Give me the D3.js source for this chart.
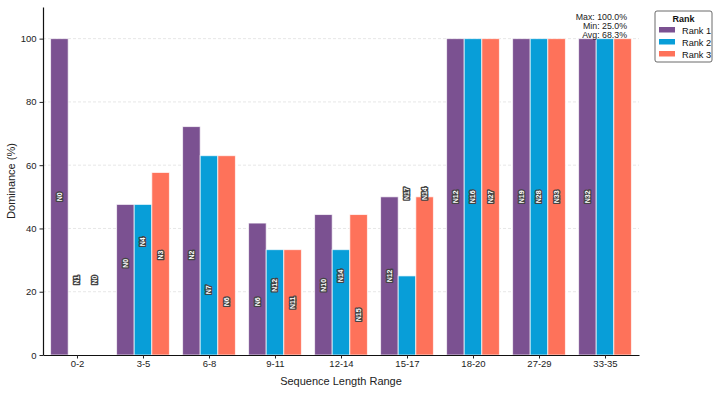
<!DOCTYPE html>
<html>
<head>
<meta charset="utf-8">
<script src="https://cdn.jsdelivr.net/npm/d3@7"></script>
<style>
  body { margin: 0; background: #fff; }
  svg { font-family: "Liberation Sans", Arial, sans-serif; }
</style>
</head>
<body>
<svg width="718" height="393"></svg>
<script>
var categories = ["0-2", "3-5", "6-8", "9-11", "12-14", "15-17", "18-20", "27-29", "33-35"];
var ranks = ["Rank 1", "Rank 2", "Rank 3"];
var rank1 = [100, 47.6, 72.2, 41.7, 44.4, 50, 100, 100, 100];
var rank2 = [0, 47.6, 63.0, 33.3, 33.3, 25, 100, 100, 100];
var rank3 = [0, 57.7, 63.0, 33.3, 44.4, 50, 100, 100, 100];
// node labels per bar and the height (in %) they sit at
var labels1 = ["N0", "N0", "N2", "N6", "N10", "N12", "N12", "N19", "N32"];
var labels2 = ["N1", "N4", "N7", "N12", "N14", "N17", "N16", "N28", null];
var labels3 = ["N0", "N3", "N6", "N11", "N15", "N14", "N27", "N33", null];
var labelAt1 = [50, 29, 31.6, 16.8, 22, 25, 50, 50, 50];
var labelAt2 = [23.7, 35.8, 20.6, 22, 25, 51, 50, 50, 50];
var labelAt3 = [23.7, 31.6, 16.8, 16.5, 12.7, 51, 50, 50, 50];
var yTicks = [0, 20, 40, 60, 80, 100];
var colors = ["#7b5191", "#089ed8", "#fe725a"];

var svg = d3.select("svg");
var margins = { left: 43, right: 79, top: 7, bottom: 38 };
var width = +svg.attr("width"), height = +svg.attr("height");

var xScale = d3.scaleLinear().domain([-0.515, 8.515]).range([margins.left, width - margins.right]);
var yScale = d3.scaleLinear().domain([0, 110]).range([height - margins.bottom, margins.top]);

var series = [rank1, rank2, rank3];
var labelSets = [labels1, labels2, labels3];
var labelAts = [labelAt1, labelAt2, labelAt3];
var barW = 0.8 / 3;

// grid
svg.append("g")
  .selectAll("line").data(yTicks.slice(1)).enter().append("line")
  .attr("x1", margins.left).attr("x2", width - margins.right)
  .attr("y1", function (d) { return yScale(d); })
  .attr("y2", function (d) { return yScale(d); })
  .attr("stroke", "#ddd").attr("stroke-width", 0.7).attr("stroke-dasharray", "3,2");

// bars
series.forEach(function (vals, s) {
  svg.append("g").selectAll("rect").data(vals).enter().append("rect")
    .attr("x", function (d, i) { return xScale(i + (s - 1) * barW - barW / 2); })
    .attr("width", xScale(barW) - xScale(0))
    .attr("y", function (d) { return yScale(d); })
    .attr("height", function (d) { return yScale(0) - yScale(d); })
    .attr("fill", colors[s])
    .attr("stroke", "#fff").attr("stroke-opacity", 0.7).attr("stroke-width", 1);
});

// node labels
series.forEach(function (vals, s) {
  labelSets[s].forEach(function (lab, i) {
    if (!lab) return;
    var cx = xScale(i + (s - 1) * barW), cy = yScale(labelAts[s][i]);
    svg.append("text")
      .attr("transform", "translate(" + cx + "," + cy + ") rotate(-90)")
      .attr("text-anchor", "middle").attr("dy", "0.35em")
      .attr("font-size", 7).attr("font-weight", "bold")
      .attr("fill", "#fff").attr("stroke", "#444").attr("stroke-width", 2.6)
      .attr("paint-order", "stroke").attr("stroke-linejoin", "round")
      .text(lab);
  });
});

// axes
var xAxis = svg.append("g")
  .attr("transform", "translate(0," + yScale(0) + ")")
  .call(d3.axisBottom(xScale).tickValues(d3.range(categories.length))
    .tickFormat(function (d) { return categories[d]; }).tickSize(3.5).tickSizeOuter(0));
var yAxis = svg.append("g")
  .attr("transform", "translate(" + margins.left + ",0)")
  .call(d3.axisLeft(yScale).tickValues(yTicks).tickSize(3.5).tickSizeOuter(0));
[xAxis, yAxis].forEach(function (a) {
  a.selectAll("text").attr("font-size", 9.5).attr("fill", "#222").attr("font-family", "Liberation Sans, Arial, sans-serif");
  a.selectAll(".tick line").attr("stroke", "#222");
  a.select(".domain").attr("stroke", "#111").attr("stroke-width", 1.2);
});
xAxis.selectAll("text").attr("y", 5).attr("dy", "0.75em");

svg.append("text").attr("x", (margins.left + width - margins.right) / 2).attr("y", 385)
  .attr("text-anchor", "middle").attr("font-size", 11).attr("fill", "#222")
  .text("Sequence Length Range");
svg.append("text")
  .attr("transform", "translate(15," + (margins.top + (height - margins.bottom)) / 2 + ") rotate(-90)")
  .attr("text-anchor", "middle").attr("font-size", 11).attr("fill", "#222")
  .text("Dominance (%)");

// stats
var all = rank1.concat(rank2, rank3).filter(function (d) { return d > 0; });
var stats = ["Max: " + d3.max(all).toFixed(1) + "%",
             "Min: " + d3.min(all).toFixed(1) + "%",
             "Avg: " + d3.mean(all).toFixed(1) + "%"];
svg.append("g").selectAll("text").data(stats).enter().append("text")
  .attr("x", 627).attr("y", function (d, i) { return 20 + i * 9.2; })
  .attr("text-anchor", "end").attr("font-size", 8.8).attr("fill", "#222")
  .text(function (d) { return d; });

// legend
var lg = svg.append("g").attr("transform", "translate(655,11)");
lg.append("rect").attr("width", 57).attr("height", 51).attr("rx", 2)
  .attr("fill", "#fff").attr("stroke", "#444").attr("stroke-width", 0.8);
lg.append("text").attr("x", 28.5).attr("y", 11).attr("text-anchor", "middle")
  .attr("font-size", 9).attr("font-weight", "bold").attr("fill", "#111").text("Rank");
ranks.forEach(function (r, i) {
  lg.append("rect").attr("x", 4).attr("y", 16 + i * 12).attr("width", 16).attr("height", 5.5)
    .attr("fill", colors[i]);
  lg.append("text").attr("x", 27).attr("y", 22.5 + i * 12).attr("font-size", 9.2)
    .attr("fill", "#111").text(r);
});
</script>
</body>
</html>
